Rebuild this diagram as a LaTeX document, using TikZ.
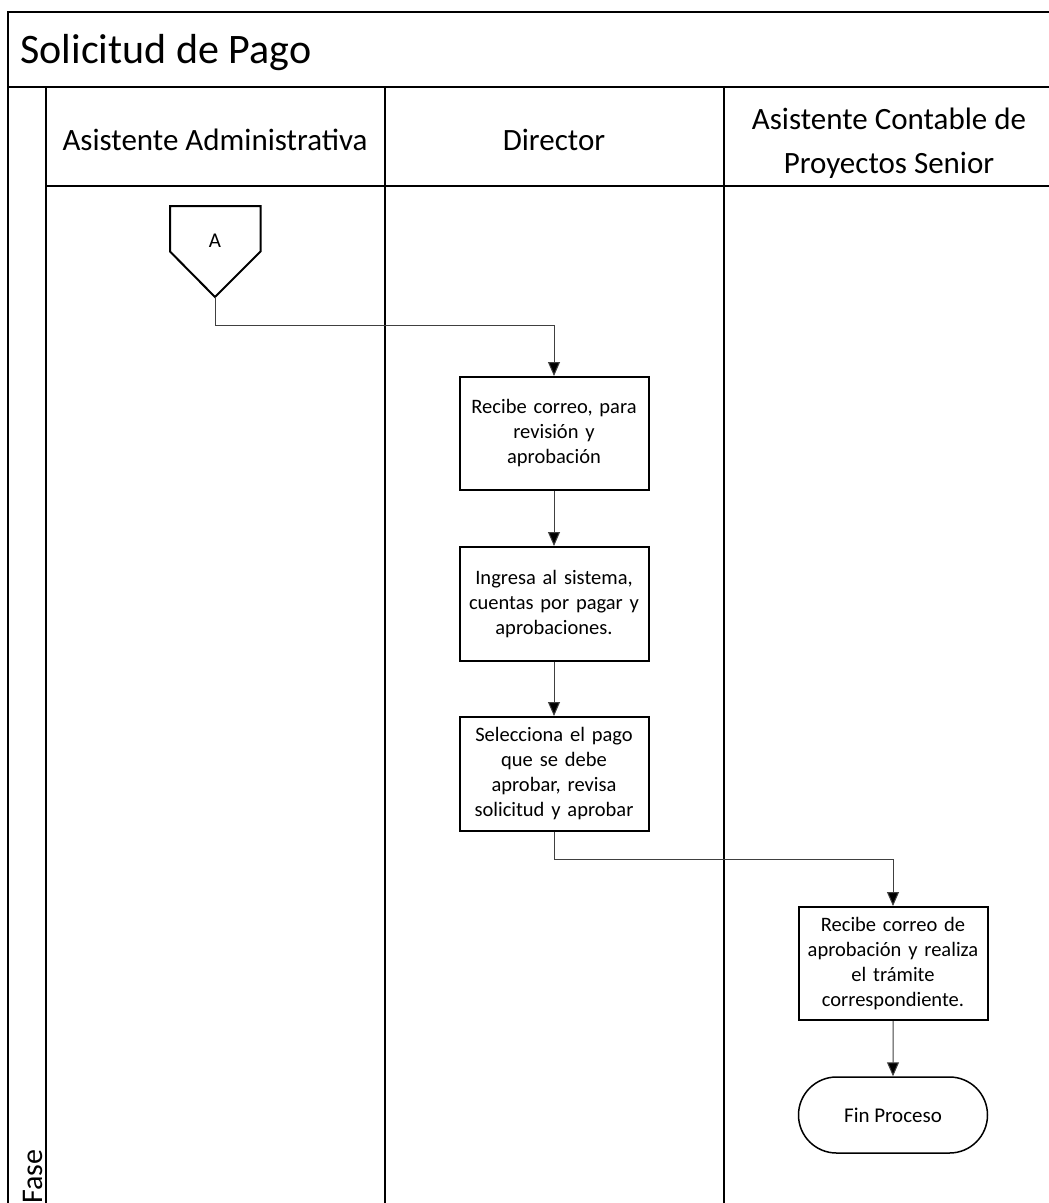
\documentclass[tikz,border=0pt]{standalone}
\usepackage{fontspec}
\setmainfont{Carlito}
\usetikzlibrary{arrows.meta,shapes.geometric,shapes.misc}
\begin{document}
\begin{tikzpicture}[x=1pt,y=-1pt,
  frame/.style={line width=2pt,black},
  flow/.style={line width=1pt,draw=black!75,-{Triangle[width=12pt,length=14pt,fill=black]}},
  task/.style={draw,line width=2pt,rectangle,minimum width=189pt,text width=186pt,align=center,
    inner sep=0pt,font=\fontsize{20.5}{25}\selectfont},
  lanehead/.style={font=\fontsize{31}{44}\selectfont,align=center},
  endbox/.style={draw,line width=1.5pt,rounded rectangle,minimum width=189pt,minimum height=76pt,
    inner sep=0pt,font=\fontsize{21}{25}\selectfont}]
\useasboundingbox (0,0) rectangle (1049,1203);
% pool frame and lane separators
\draw[frame] (1049,12) -- (8,12) -- (8,1203);
\draw[frame] (8,87) -- (1049,87);
\draw[frame] (45.5,87) -- (45.5,1203);
\draw[frame] (45.5,186) -- (1049,186);
\draw[frame] (385,87) -- (385,1203);
\draw[frame] (723.5,87) -- (723.5,1203);
% titles
\node[anchor=west,font=\fontsize{42}{50}\selectfont] (title) at (17,53) {Solicitud de Pago};
\node[lanehead] (lane1) at (215,140) {Asistente Administrativa};
\node[lanehead] (lane2) at (554,140) {Director};
\node[lanehead] (lane3) at (889,143) {Asistente Contable de\\Proyectos Senior};
\node[rotate=90,anchor=west,font=\fontsize{30}{36}\selectfont,inner sep=0pt] (fase) at (33,1204) {Fase};
% off-page connector
\draw[line width=2pt] (170,206) -- (260.5,206) -- (260.5,251.5) -- (215,297) -- (170,251.5) -- cycle;
\coordinate (conA) at (215,297);
\node[font=\fontsize{21}{24}\selectfont] (labelA) at (215,241) {A};
% process steps
\node[task,minimum height=113pt] (s1) at (554,433.5) {Recibe correo, para\\revisión y\\aprobación};
\node[task,minimum height=114pt] (s2) at (554,604) {Ingresa al sistema,\\cuentas por pagar y\\aprobaciones.};
\node[task,minimum height=114pt] (s3) at (554,774) {Selecciona el pago\\que se debe\\aprobar, revisa\\solicitud y aprobar};
\node[task,minimum height=113pt] (s4) at (893,963.5) {Recibe correo de\\aprobación y realiza\\el trámite\\correspondiente.};
\node[endbox] (fin) at (893,1115) {Fin Proceso};
% connectors
\draw[flow] (conA) |- (554,325) -- (s1.north);
\draw[flow] (s1) -- (s2);
\draw[flow] (s2) -- (s3);
\draw[flow] (s3.south) |- (893,859) -- (s4.north);
\draw[flow] (s4) -- (fin);
\end{tikzpicture}
\end{document}
